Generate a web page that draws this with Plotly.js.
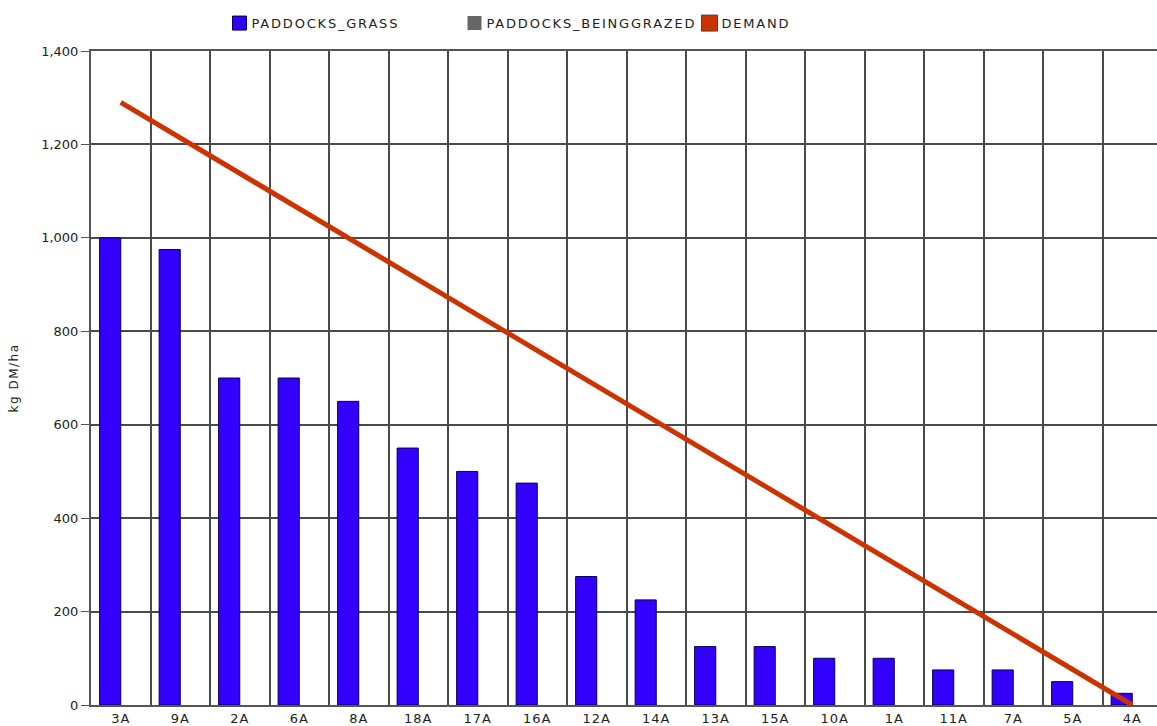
<!DOCTYPE html>
<html><head><meta charset="utf-8">
<script src="https://cdn.plot.ly/plotly-3.0.1.min.js"></script>
<style>
html,body{margin:0;padding:0;overflow:hidden;background:#fff;}
#chart{width:1170px;height:726px;}
.legendtext{letter-spacing:1.8px;}
.ytitle{letter-spacing:1.5px;}
.xtick text{letter-spacing:1px;}
</style></head><body><div id="chart"></div>
<script>
const categories=["3A","9A","2A","6A","8A","18A","17A","16A","12A","14A","13A","15A","10A","1A","11A","7A","5A","4A"];
const paddocksGrass=[1000,975,700,700,650,550,500,475,275,225,125,125,100,100,75,75,50,25];
const paddocksBeingGrazed=[0,0,0,0,0,0,0,0,0,0,0,0,0,0,0,0,0,0];
const demand=[1290,1214,1138,1062,986,910,834,758,683,607,531,455,379,303,228,152,76,0];
const seriesNames=["PADDOCKS_GRASS","PADDOCKS_BEINGGRAZED","DEMAND"];

const fam="DejaVu Sans, Verdana, sans-serif";
const font={family:fam,size:13,color:"#222"};
const traces=[
 {type:"bar",name:seriesNames[0],x:categories,y:paddocksGrass,
  marker:{color:"#3300ff",line:{color:"#000055",width:1}},hoverinfo:"skip"},
 {type:"bar",name:seriesNames[1],x:categories,y:paddocksBeingGrazed,
  marker:{color:"#666666",line:{color:"#333333",width:0}},hoverinfo:"skip"},
 {type:"scatter",mode:"lines",name:seriesNames[2],x:categories,y:demand,showlegend:false,
  line:{color:"#cc3300",width:5},hoverinfo:"skip"},
 {type:"scatter",mode:"markers",name:seriesNames[2],x:[null],y:[null],
  marker:{symbol:"square",size:16,color:"#cc3300",line:{color:"#444",width:1}},hoverinfo:"skip"}
];
const layout={
 width:1170,height:726,
 margin:{l:91,r:8,t:47,b:21},
 paper_bgcolor:"#fff",plot_bgcolor:"#fff",
 font:font,
 barmode:"group",bargap:0.29,bargroupgap:0,
 showlegend:true,
 legend:{orientation:"h",x:0.12,xanchor:"left",y:1.0426,yanchor:"middle",
   font:{family:fam,size:13,color:"#222"},
   entrywidth:190,entrywidthmode:"pixels",traceorder:"normal"},
 xaxis:{type:"category",tickson:"boundaries",showgrid:true,gridcolor:"#4a4a4a",gridwidth:2,
   showline:true,mirror:true,linecolor:"#555",linewidth:2,ticks:"",ticklabelstandoff:0,
   tickfont:font,fixedrange:true},
 yaxis:{range:[0,1400],dtick:200,tickformat:",d",showgrid:true,gridcolor:"#4a4a4a",gridwidth:2,
   showline:true,mirror:true,linecolor:"#555",linewidth:2,ticks:"outside",ticklen:8,tickcolor:"#555",
   tickfont:font,zeroline:false,fixedrange:true,
   title:{text:"kg DM/ha",font:{family:fam,size:12,color:"#222"},standoff:20}}
};
Plotly.newPlot("chart",traces,layout,{displayModeBar:false,staticPlot:true}).then(function(gd){
  gd.querySelectorAll(".legend .legendtext").forEach(function(t){t.setAttribute("x","32");});
  gd.querySelectorAll(".legend .legendpoints path").forEach(function(p){
    var d=p.getAttribute("d")||"";
    if(d.indexOf("M6,6H-6V-6H6Z")===0){p.setAttribute("d","M7,7H-7V-7H7Z");}
  });
});
</script></body></html>
